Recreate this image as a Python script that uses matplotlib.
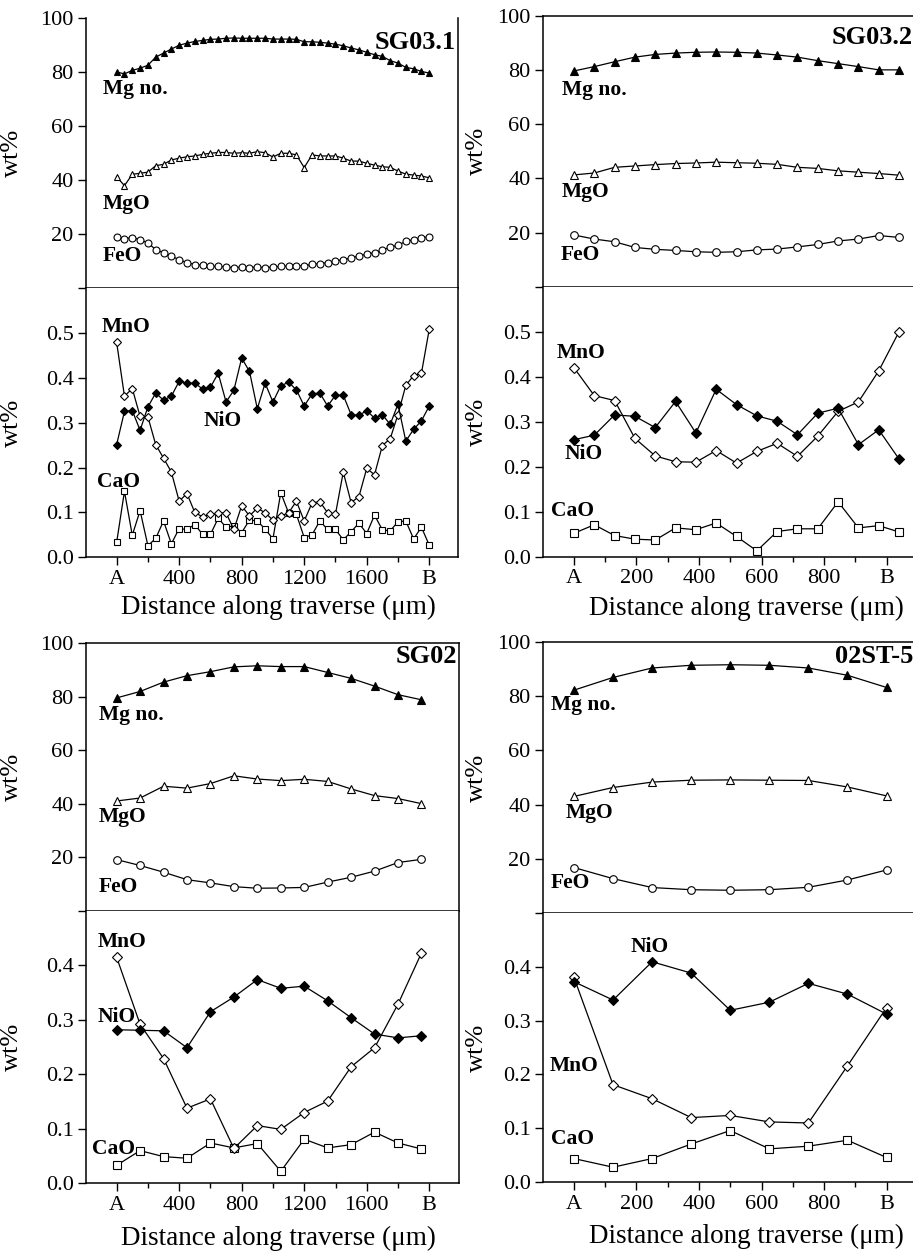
import matplotlib
matplotlib.use('Agg')
import matplotlib.pyplot as plt
from matplotlib.ticker import FixedLocator

plt.rcParams['font.family'] = ['Liberation Serif', 'DejaVu Serif']

# ---- SG03.1 ----
sg031_x = [0, 50, 100, 150, 200, 250, 300, 350, 400, 450, 500, 550, 600, 650, 700,
           750, 800, 850, 900, 950, 1000, 1050, 1100, 1150, 1200, 1250, 1300, 1350,
           1400, 1450, 1500, 1550, 1600, 1650, 1700, 1750, 1800, 1850, 1900, 1950, 2000]
sg031_mgno = [80.0, 79.3, 80.6, 81.4, 82.5, 85.5, 87.0, 88.5, 89.9, 90.7, 91.3, 91.7, 92.1, 92.2,
              92.5, 92.6, 92.5, 92.5, 92.5, 92.5, 92.2, 92.2, 92.2, 92.1, 91.2, 91.2, 91.0, 90.7,
              90.3, 89.7, 88.9, 88.2, 87.3, 86.4, 85.8, 84.2, 83.3, 81.7, 81.2, 80.2, 79.6]
sg031_mgo = [41.2, 37.9, 42.1, 42.5, 42.9, 45.3, 45.8, 47.4, 48.1, 48.6, 48.9, 49.5, 49.9, 50.2,
             50.2, 49.9, 50.1, 49.9, 50.5, 50.1, 48.5, 49.9, 49.9, 49.3, 44.6, 49.3, 48.9, 48.9,
             48.9, 48.1, 47.0, 47.0, 46.2, 45.5, 44.9, 44.7, 43.3, 42.2, 41.8, 41.5, 40.8]
sg031_feo = [18.9, 18.2, 18.7, 17.9, 16.7, 14.2, 13.1, 11.8, 10.5, 9.4, 8.7, 8.4, 8.0, 8.0,
             7.8, 7.5, 7.8, 7.5, 7.8, 7.5, 7.8, 8.0, 8.2, 8.2, 8.2, 8.8, 9.0, 9.4,
             10.0, 10.5, 11.1, 11.9, 12.5, 13.1, 14.0, 15.2, 15.8, 17.3, 17.9, 18.7, 18.9]
sg031_mno = [0.479, 0.359, 0.376, 0.314, 0.313, 0.251, 0.221, 0.190, 0.125, 0.142, 0.100, 0.090,
             0.096, 0.098, 0.099, 0.062, 0.115, 0.092, 0.110, 0.099, 0.083, 0.092, 0.099, 0.125,
             0.081, 0.121, 0.124, 0.099, 0.096, 0.190, 0.122, 0.135, 0.198, 0.184, 0.249, 0.264,
             0.318, 0.383, 0.405, 0.410, 0.508]
sg031_nio = [0.251, 0.325, 0.327, 0.283, 0.335, 0.366, 0.350, 0.359, 0.392, 0.388, 0.388, 0.375,
             0.379, 0.410, 0.346, 0.372, 0.444, 0.414, 0.331, 0.388, 0.346, 0.382, 0.390, 0.373,
             0.337, 0.364, 0.366, 0.337, 0.361, 0.361, 0.318, 0.316, 0.327, 0.310, 0.318, 0.296,
             0.341, 0.259, 0.285, 0.304, 0.337]
sg031_cao = [0.033, 0.147, 0.049, 0.104, 0.026, 0.042, 0.081, 0.030, 0.064, 0.062, 0.073, 0.051,
             0.051, 0.087, 0.067, 0.070, 0.055, 0.083, 0.081, 0.063, 0.041, 0.144, 0.099, 0.096,
             0.044, 0.050, 0.081, 0.062, 0.062, 0.039, 0.057, 0.076, 0.053, 0.094, 0.061, 0.059,
             0.079, 0.081, 0.041, 0.067, 0.027]

# ---- SG03.2 ----
sg032_x = [0, 65, 130, 195, 260, 325, 390, 455, 520, 585, 650, 715, 780, 845, 910, 975, 1040]
sg032_mgno = [79.7, 81.3, 83.1, 84.8, 85.8, 86.3, 86.6, 86.7, 86.6, 86.3, 85.6, 84.8, 83.5, 82.4, 81.3, 80.1, 80.1]
sg032_mgo = [41.3, 42.0, 44.1, 44.6, 45.1, 45.5, 45.7, 46.0, 45.8, 45.6, 45.2, 44.1, 43.7, 42.8, 42.3, 41.8, 41.2]
sg032_feo = [19.1, 17.6, 16.6, 14.5, 13.8, 13.4, 12.9, 12.7, 12.9, 13.6, 13.9, 14.7, 15.6, 16.9, 17.6, 18.9, 18.2]
sg032_mno = [0.420, 0.358, 0.347, 0.263, 0.224, 0.211, 0.210, 0.236, 0.208, 0.234, 0.252, 0.223,
             0.268, 0.323, 0.344, 0.413, 0.500]
sg032_nio = [0.260, 0.270, 0.315, 0.312, 0.287, 0.345, 0.275, 0.372, 0.338, 0.313, 0.301, 0.271,
             0.319, 0.330, 0.249, 0.282, 0.217]
sg032_cao = [0.052, 0.071, 0.047, 0.039, 0.037, 0.064, 0.060, 0.075, 0.045, 0.013, 0.056, 0.062,
             0.062, 0.122, 0.064, 0.069, 0.055]

# ---- SG02 ----
sg02_x = [0, 150, 300, 450, 600, 750, 900, 1050, 1200, 1350, 1500, 1650, 1800, 1950]
sg02_mgno = [79.6, 82.0, 85.5, 87.9, 89.4, 91.2, 91.6, 91.3, 91.3, 89.1, 86.9, 84.0, 80.8, 78.9]
sg02_mgo = [41.1, 42.2, 46.6, 45.9, 47.6, 50.5, 49.3, 48.7, 49.2, 48.4, 45.6, 43.1, 42.0, 40.1]
sg02_feo = [19.2, 17.0, 14.5, 11.7, 10.5, 9.1, 8.5, 8.6, 8.8, 10.8, 12.6, 14.9, 18.1, 19.3]
sg02_mno = [0.415, 0.292, 0.229, 0.138, 0.155, 0.064, 0.106, 0.099, 0.130, 0.151, 0.214, 0.249, 0.329, 0.423]
sg02_nio = [0.282, 0.281, 0.280, 0.249, 0.315, 0.342, 0.374, 0.358, 0.362, 0.335, 0.304, 0.274, 0.267, 0.271]
sg02_cao = [0.033, 0.060, 0.049, 0.046, 0.074, 0.065, 0.073, 0.022, 0.081, 0.065, 0.071, 0.094, 0.074, 0.063]

# ---- 02ST-5 ----
st5_x = [0, 125, 250, 375, 500, 625, 750, 875, 1000]
st5_mgno = [82.3, 87.0, 90.5, 91.5, 91.7, 91.5, 90.5, 87.8, 83.3]
st5_mgo = [43.0, 46.3, 48.3, 49.0, 49.1, 49.0, 48.9, 46.5, 43.2]
st5_feo = [16.7, 12.6, 9.3, 8.5, 8.3, 8.5, 9.4, 12.1, 15.8]
st5_mno = [0.380, 0.181, 0.155, 0.120, 0.124, 0.112, 0.110, 0.216, 0.324]
st5_nio = [0.372, 0.338, 0.409, 0.388, 0.319, 0.334, 0.369, 0.349, 0.312]
st5_cao = [0.044, 0.028, 0.044, 0.071, 0.096, 0.062, 0.067, 0.078, 0.046]

long_ticks = [0, 400, 800, 1200, 1600, 2000]
long_labels = ['A', '400', '800', '1200', '1600', 'B']
long_minor = [200, 600, 1000, 1400, 1800]
short_ticks = [0, 200, 400, 600, 800, 1000]
short_labels = ['A', '200', '400', '600', '800', 'B']
short_minor = [100, 300, 500, 700, 900]

W, H = 913, 1256
fig = plt.figure(figsize=(W / 100, H / 100), dpi=100)


def rect(x0, x1, ytop, ybot):
    return [x0 / W, 1 - ybot / H, (x1 - x0) / W, (ybot - ytop) / H]


def style(ax):
    for s in ax.spines.values():
        s.set_linewidth(1.1)
    ax.tick_params(which='major', direction='out', length=6, width=1.0, labelsize=16, pad=3)
    ax.tick_params(which='minor', direction='out', length=3.5, width=1.0)


def panel(pos_top, pos_bot, xlim, ticks, tlabels, minor, x, mgno, mgo, feo, mno, nio, cao,
          bot_ymax, bot_yticks, name, name_y, top_txt, bot_txt, top_spine, xlab_x, xlab_y, ylab_x, ms):
    ax1 = fig.add_axes(pos_top)
    ax2 = fig.add_axes(pos_bot)
    style(ax1)
    style(ax2)

    ax1.plot(x, mgno, '-', color='black', lw=0.9, marker='^', ms=ms, mfc='black', mec='black', mew=0.8)
    ax1.plot(x, mgo, '-', color='black', lw=0.9, marker='^', ms=ms, mfc='white', mec='black', mew=0.8)
    ax1.plot(x, feo, '-', color='black', lw=0.9, marker='o', ms=ms, mfc='white', mec='black', mew=0.8)
    ax1.set_xlim(xlim)
    ax1.set_ylim(0, 100)
    ax1.set_yticks([0, 20, 40, 60, 80, 100])
    ax1.set_yticklabels(['', '20', '40', '60', '80', '100'])
    ax1.xaxis.set_major_locator(FixedLocator(ticks))
    ax1.xaxis.set_minor_locator(FixedLocator(minor))
    ax1.set_xticklabels([])
    ax1.spines['top'].set_visible(top_spine)
    ax1.set_ylabel('wt%', fontsize=19)
    ax1.yaxis.set_label_coords(ylab_x, 0.5)
    ax1.text(0.995, name_y, name, transform=ax1.transAxes, ha='right', va='center',
             fontsize=19, fontweight='bold')
    for txt, tx, ty in top_txt:
        ax1.text(tx, ty, txt, ha='left', va='center', fontsize=15.5, fontweight='bold')

    ax2.plot(x, cao, '-', color='black', lw=0.9, marker='s', ms=ms - 0.3, mfc='white', mec='black', mew=0.8)
    ax2.plot(x, mno, '-', color='black', lw=0.9, marker='D', ms=ms - 0.5, mfc='white', mec='black', mew=0.8)
    ax2.plot(x, nio, '-', color='black', lw=0.9, marker='D', ms=ms - 0.5, mfc='black', mec='black', mew=0.8)
    ax2.set_xlim(xlim)
    ax2.set_ylim(0, bot_ymax)
    ax2.set_yticks(bot_yticks)
    ax2.set_yticklabels(['%.1f' % v for v in bot_yticks])
    ax2.xaxis.set_major_locator(FixedLocator(ticks))
    ax2.xaxis.set_minor_locator(FixedLocator(minor))
    ax2.set_xticklabels(tlabels)
    ax2.spines['top'].set_visible(False)
    ax2.set_ylabel('wt%', fontsize=19)
    ax2.yaxis.set_label_coords(ylab_x, 0.5)
    ax2.set_xlabel('Distance along traverse (\u03bcm)', fontsize=19.5)
    ax2.xaxis.set_label_coords(xlab_x, xlab_y)
    ax2.xaxis.label.set_va('center')
    for txt, tx, ty in bot_txt:
        ax2.text(tx, ty, txt, ha='left', va='center', fontsize=15.5, fontweight='bold')


panel(rect(86, 458, 18, 288), rect(86, 458, 288, 557.3), (-196, 2184),
      long_ticks, long_labels, long_minor,
      sg031_x, sg031_mgno, sg031_mgo, sg031_feo, sg031_mno, sg031_nio, sg031_cao,
      0.6, [0.0, 0.1, 0.2, 0.3, 0.4, 0.5], 'SG03.1', 0.91,
      [('Mg no.', -88, 73.7), ('MgO', -88, 31), ('FeO', -88, 11.9)],
      [('MnO', -95, 0.514), ('NiO', 559, 0.304), ('CaO', -126, 0.168)],
      False, 0.516, -0.188, -0.169, 5)

panel(rect(543, 915, 16, 286.7), rect(543, 915, 286.7, 556.7), (-99, 1091),
      short_ticks, short_labels, short_minor,
      sg032_x, sg032_mgno, sg032_mgo, sg032_feo, sg032_mno, sg032_nio, sg032_cao,
      0.6, [0.0, 0.1, 0.2, 0.3, 0.4, 0.5], 'SG03.2', 0.92,
      [('Mg no.', -39, 72.8), ('MgO', -39, 34.8), ('FeO', -42, 11.7)],
      [('MnO', -55, 0.452), ('NiO', -29, 0.228), ('CaO', -72, 0.102)],
      True, 0.546, -0.19, -0.149, 5.5)

panel(rect(86, 459, 643.3, 911), rect(86, 459, 911, 1183.3), (-196, 2190),
      long_ticks, long_labels, long_minor,
      sg02_x, sg02_mgno, sg02_mgo, sg02_feo, sg02_mno, sg02_nio, sg02_cao,
      0.5, [0.0, 0.1, 0.2, 0.3, 0.4], 'SG02', 0.95,
      [('Mg no.', -113, 73.2), ('MgO', -113, 35.2), ('FeO', -113, 9.1)],
      [('MnO', -122, 0.443), ('NiO', -122, 0.305), ('CaO', -156, 0.063)],
      True, 0.516, -0.201, -0.169, 5.5)

panel(rect(543, 915, 642.3, 912.7), rect(543, 915, 912.7, 1182.3), (-99, 1091),
      short_ticks, short_labels, short_minor,
      st5_x, st5_mgno, st5_mgo, st5_feo, st5_mno, st5_nio, st5_cao,
      0.5, [0.0, 0.1, 0.2, 0.3, 0.4], '02ST-5', 0.947,
      [('Mg no.', -74, 76.8), ('MgO', -26, 36.8), ('FeO', -74, 10.9)],
      [('NiO', 182, 0.437), ('MnO', -77, 0.216), ('CaO', -74, 0.081)],
      True, 0.546, -0.201, -0.149, 5.5)

fig.savefig('out.png', dpi=100)
